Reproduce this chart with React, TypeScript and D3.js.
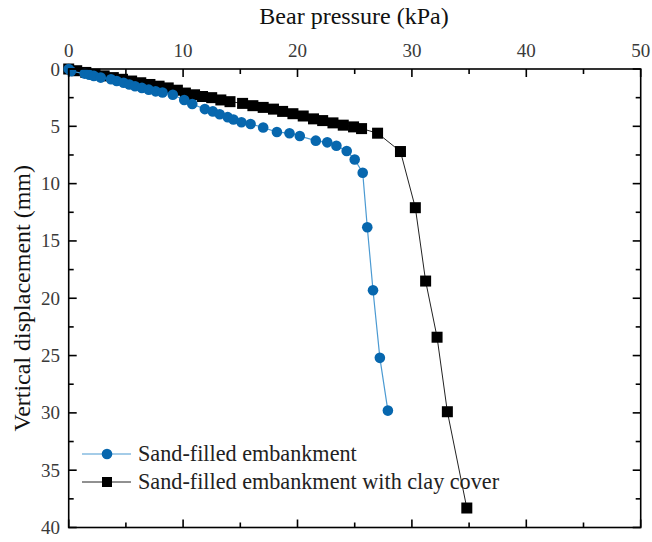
import React from "react";
import * as d3 from "d3";

const blueX = [0, 0.2, 1.4, 1.8, 2.2, 2.8, 3.7, 4.2, 4.8, 5.3, 5.8, 6.4, 7.0, 7.6, 8.2, 9.1, 10.1, 10.8, 11.9, 12.6, 13.2, 13.9, 14.4, 15.1, 15.9, 17.0, 18.2, 19.3, 20.2, 21.6, 22.6, 23.4, 24.3, 25.0, 25.7, 26.1, 26.6, 27.2, 27.9];
const blueY = [0, 0.2, 0.4, 0.5, 0.6, 0.75, 0.9, 1.05, 1.2, 1.35, 1.5, 1.65, 1.8, 1.95, 2.05, 2.25, 2.7, 3.05, 3.5, 3.7, 3.95, 4.2, 4.4, 4.65, 4.8, 5.1, 5.5, 5.6, 5.85, 6.25, 6.4, 6.7, 7.15, 7.9, 9.05, 13.8, 19.3, 25.2, 29.8];

const blackX = [0, 0.7, 1.5, 2.3, 3.1, 3.9, 4.7, 5.5, 6.3, 7.1, 7.9, 8.7, 9.5, 10.2, 11.0, 11.7, 12.5, 13.3, 14.1, 15.2, 16.1, 17.0, 17.9, 18.7, 19.6, 20.5, 21.4, 22.2, 23.1, 24.0, 24.9, 25.6, 27.0, 29.0, 30.3, 31.2, 32.2, 33.1, 34.8];
const blackY = [0, 0.15, 0.3, 0.45, 0.6, 0.75, 0.9, 1.05, 1.2, 1.35, 1.5, 1.65, 1.85, 2.1, 2.25, 2.4, 2.5, 2.7, 2.85, 3.0, 3.2, 3.35, 3.5, 3.7, 3.9, 4.1, 4.35, 4.5, 4.7, 4.9, 5.05, 5.2, 5.6, 7.2, 12.1, 18.5, 23.4, 29.9, 38.3];

const xTicks = [0, 10, 20, 30, 40, 50];
const yTicks = [0, 5, 10, 15, 20, 25, 30, 35, 40];
const xMinor = [5, 15, 25, 35, 45];
const yMinor = [2.5, 7.5, 12.5, 17.5, 22.5, 27.5, 32.5, 37.5];

const seriesNames = ["Sand-filled embankment", "Sand-filled embankment with clay cover"];

const W = 652, H = 542;
const L = 68.7, R = 640.7, T = 69, B = 527.5;
const font = "Liberation Serif";
const fs = { fontFamily: font };

export default function App() {
  const x = d3.scaleLinear().domain([0, 50]).range([L, R]);
  const y = d3.scaleLinear().domain([0, 40]).range([T, B]);
  const line = d3.line<[number, number]>().x(d => x(d[0])).y(d => y(d[1]));
  const blue: [number, number][] = blueX.map((v, i) => [v, blueY[i]]);
  const black: [number, number][] = blackX.map((v, i) => [v, blackY[i]]);
  const blueMark = "#0767AE";
  const blueLine = "#4B9AD2";
  const tickCol = "#3a3a3a";
  return (
    <svg width={W} height={H} style={{ position: "fixed", left: 0, top: 0, background: "#fff" }}>
      <rect x={0} y={0} width={W} height={H} fill="#fff" />
      <path d={line(black) || ""} fill="none" stroke="#222" strokeWidth={1} />
      {black.map((d, i) => (
        <rect key={"k" + i} x={x(d[0]) - 5.5} y={y(d[1]) - 5.5} width={11} height={11} fill="#000" />
      ))}
      <path d={line(blue) || ""} fill="none" stroke={blueLine} strokeWidth={1.2} />
      {blue.map((d, i) => (
        <circle key={"b" + i} cx={x(d[0])} cy={y(d[1])} r={5.3} fill={blueMark} />
      ))}
      <rect x={L} y={T} width={R - L} height={B - T} fill="none" stroke="#000" strokeWidth={1.6} />
      {xTicks.map(t => (
        <g key={"xt" + t}>
          <line x1={x(t)} x2={x(t)} y1={T} y2={T + 8} stroke="#000" strokeWidth={1.6} />
          <line x1={x(t)} x2={x(t)} y1={B} y2={B - 8} stroke="#000" strokeWidth={1.6} />
          <text x={x(t)} y={57} textAnchor="middle" fontSize={19} fill={tickCol} style={fs}>{t}</text>
        </g>
      ))}
      {xMinor.map(t => (
        <g key={"xm" + t}>
          <line x1={x(t)} x2={x(t)} y1={T} y2={T + 5} stroke="#000" strokeWidth={1.6} />
          <line x1={x(t)} x2={x(t)} y1={B} y2={B - 5} stroke="#000" strokeWidth={1.6} />
        </g>
      ))}
      {yTicks.map(t => (
        <g key={"yt" + t}>
          <line x1={L} x2={L + 8} y1={y(t)} y2={y(t)} stroke="#000" strokeWidth={1.6} />
          <line x1={R} x2={R - 8} y1={y(t)} y2={y(t)} stroke="#000" strokeWidth={1.6} />
          <text x={60} y={y(t) + 6.5} textAnchor="end" fontSize={19} fill={tickCol} style={fs}>{t}</text>
        </g>
      ))}
      {yMinor.map(t => (
        <g key={"ym" + t}>
          <line x1={L} x2={L + 5} y1={y(t)} y2={y(t)} stroke="#000" strokeWidth={1.6} />
          <line x1={R} x2={R - 5} y1={y(t)} y2={y(t)} stroke="#000" strokeWidth={1.6} />
        </g>
      ))}
      <text x={354} y={24} textAnchor="middle" fontSize={24} fill="#111" style={fs}>Bear pressure (kPa)</text>
      <text transform={`translate(30,${(T + B) / 2}) rotate(-90)`} textAnchor="middle" fontSize={24} fill="#111" style={fs}>Vertical displacement (mm)</text>
      <g>
        <line x1={82} x2={131} y1={454} y2={454} stroke={blueLine} strokeWidth={1.2} />
        <circle cx={107} cy={454} r={5.3} fill={blueMark} />
        <text x={138} y={461} fontSize={22.2} fill="#222" style={fs}>{seriesNames[0]}</text>
        <line x1={82} x2={131} y1={482} y2={482} stroke="#222" strokeWidth={1} />
        <rect x={107 - 5} y={482 - 5} width={10} height={10} fill="#000" />
        <text x={138} y={489} fontSize={22.2} fill="#222" style={fs}>{seriesNames[1]}</text>
      </g>
    </svg>
  );
}
